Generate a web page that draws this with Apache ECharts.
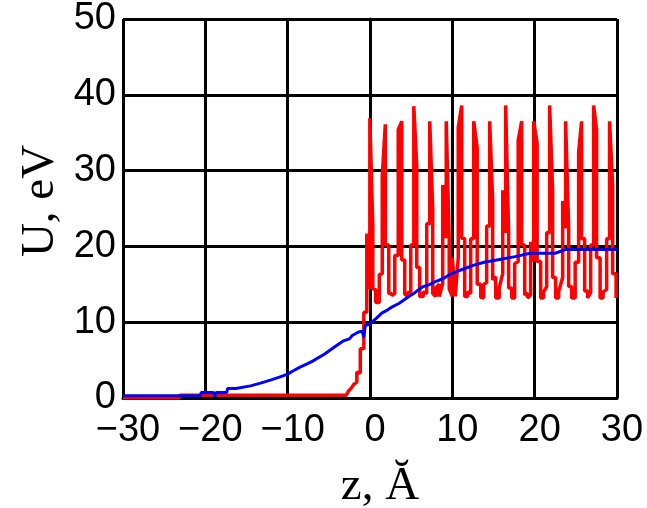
<!DOCTYPE html>
<html>
<head>
<meta charset="utf-8">
<script src="https://cdn.jsdelivr.net/npm/echarts@6/dist/echarts.min.js"></script>
<style>
html, body { margin: 0; padding: 0; background: #fff; }
#chart { width: 647px; height: 508px; }
</style>
</head>
<body>
<div id="chart"></div>
<script>
// axis ticks
var xTicks = [-30, -20, -10, 0, 10, 20, 30];
var yTicks = [0, 10, 20, 30, 40, 50];

// blue curve (smooth rise)
var blueZ = [-30, -20.6, -20.5, -19.0, -18.85, -18.7, -17.9, -17.4, -17.3, -16.3, -14.5, -13.3, -12.0, -11.0, -10.0, -9.3, -8.5, -7.7, -6.9, -6.3,
  -5.5, -5.0, -4.1, -3.3, -2.5, -2.15, -1.4, -0.93, -0.75, -0.57, -0.08, 0.76, 1.43, 2.04, 2.65, 3.56, 4.59, 5.44, 5.92, 6.47,
  7.2, 8.05, 8.96, 9.56, 10.35, 11.44, 12.54, 13.87, 15.39, 17.63, 19.45, 22.5, 23.8, 30];
var blueU = [0.3, 0.3, 0.73, 0.73, 0.2, 0.73, 0.73, 0.73, 1.25, 1.25, 1.6, 1.96, 2.4, 2.75, 3.15, 3.6, 4.07, 4.47, 4.9, 5.3,
  5.8, 6.2, 6.9, 7.5, 7.8, 8.25, 8.7, 8.8, 8.0, 9.6, 9.7, 10.5, 11.2, 11.55, 12.0, 12.5, 13.3, 13.9, 14.3, 14.7,
  14.95, 15.4, 15.8, 16.2, 16.6, 17.05, 17.5, 17.9, 18.2, 18.65, 19.1, 19.1, 19.6, 19.6];

// red curve, flat part before the jump
var redLeadZ = [-30, -23.2, -23.1, -2.88, -2.63, -2.27, -1.97];
var redLeadU = [0, 0, 0.35, 0.35, 0.9, 1.3, 1.8];

// red curve, oscillating part: each sample is a vertical stroke lo..hi
var redZ = [-1.6, -1.18, -0.75, -0.39, -0.02, 0.34, 0.70, 1.13, 1.49, 1.86, 2.28, 2.65, 3.01, 3.43, 3.86, 4.22, 4.59, 4.95, 5.32, 5.68,
  6.04, 6.47, 6.89, 7.26, 7.62, 7.99, 8.41, 8.83, 9.26, 9.62, 9.99, 10.35, 10.72, 11.14, 11.5, 11.87, 12.23, 12.6, 13.02, 13.45,
  13.81, 14.17, 14.54, 14.9, 15.27, 15.69, 16.12, 16.48, 16.84, 17.21, 17.57, 18.0, 18.42, 18.79, 19.15, 19.51, 19.88, 20.3, 20.73, 21.09,
  21.46, 21.82, 22.18, 22.55, 22.91, 23.4, 23.76, 24.13, 24.49, 24.92, 25.34, 25.7, 26.07, 26.43, 26.8, 27.16, 27.52, 27.95, 28.31, 28.74,
  29.1, 29.47, 29.89];
var redLo = [2.1, 3.3, 6.5, 11.3, 14.4, 14.4, 12.6, 12.6, 16.4, 20.2, 13.8, 13.5, 13.8, 18.8, 18.2, 13.7, 13.4, 13.7, 20.2, 17.2,
  13.4, 13.4, 13.8, 23, 13.8, 13.4, 13.4, 15.1, 21.1, 14.4, 13.4, 13.4, 18.5, 21.1, 13.4, 13.4, 13.8, 21, 15, 13.3,
  13.2, 15.2, 22.7, 15.6, 13.2, 13.2, 16.4, 21.8, 14.5, 13.2, 13.2, 18, 20.2, 13.6, 13.2, 13.6, 18, 18, 13.2, 13.2,
  14.7, 21.8, 15.9, 13.2, 13.2, 15.9, 22.4, 14.7, 13.2, 13.2, 17.9, 21, 14.1, 13.2, 13.9, 20.2, 18.5, 13.2, 13.2, 14.3,
  21, 16.4, 13.2];
var redHi = [3.4, 6.5, 11.3, 21.7, 36.9, 22.7, 14.3, 16.3, 29.3, 36.1, 20.2, 13.8, 18.8, 35.4, 36.5, 18.2, 14, 20.2, 38.5, 30.6,
  17.2, 14, 23, 36.5, 24.8, 14.5, 15, 28.1, 36.5, 21, 18.5, 14, 35.7, 38.6, 21, 14, 21, 36.5, 33, 15,
  15, 22.7, 36.5, 26, 16, 14.5, 27.4, 38.6, 21.8, 14.5, 17.7, 34, 36.5, 20.2, 13.8, 20.6, 36.5, 33.6, 18, 14,
  21.8, 38.6, 27.4, 15.9, 14, 26, 36.5, 22.4, 14.7, 17.9, 32.4, 36.5, 21, 14.1, 20.2, 38.6, 35.4, 18.5, 14, 21,
  36.5, 28, 16.4];

var blueData = blueZ.map(function (z, i) { return [z, blueU[i]]; });

var redData = redLeadZ.map(function (z, i) { return [z, redLeadU[i]]; });
var last = redLeadU[redLeadU.length - 1];
for (var i = 0; i < redZ.length; i++) {
  var lo = redLo[i], hi = redHi[i];
  if (Math.abs(last - lo) <= Math.abs(last - hi)) {
    redData.push([redZ[i], lo], [redZ[i], hi]);
    last = hi;
  } else {
    redData.push([redZ[i], hi], [redZ[i], lo]);
    last = lo;
  }
}

var chart = echarts.init(document.getElementById('chart'));

function tickText(v) {
  return v < 0 ? '\u2212' + Math.abs(v) : String(v);
}

var option = {
  animation: false,
  backgroundColor: '#fff',
  grid: { left: 123, right: 30, top: 19, bottom: 110 },
  xAxis: {
    type: 'value',
    min: xTicks[0],
    max: xTicks[xTicks.length - 1],
    interval: xTicks[1] - xTicks[0],
    axisLine: { show: true, onZero: false, lineStyle: { color: '#000', width: 3 } },
    axisTick: { show: false },
    splitLine: { show: true, lineStyle: { color: '#000', width: 3 } },
    axisLabel: {
      color: '#000',
      fontFamily: 'Liberation Sans',
      fontSize: 38,
      margin: 14,
      padding: [0, 0, 0, 10],
      formatter: tickText
    }
  },
  yAxis: {
    type: 'value',
    min: yTicks[0],
    max: yTicks[yTicks.length - 1],
    interval: yTicks[1] - yTicks[0],
    axisLine: { show: true, lineStyle: { color: '#000', width: 3 } },
    axisTick: { show: false },
    splitLine: { show: true, lineStyle: { color: '#000', width: 3 } },
    axisLabel: {
      color: '#000',
      fontFamily: 'Liberation Sans',
      fontSize: 38,
      margin: 7,
      padding: [7, 0, 0, 0],
      formatter: tickText
    }
  },
  graphic: [
    {
      type: 'text',
      x: 380, y: 487,
      style: {
        text: 'z, Ă',
        font: '47px "Liberation Serif"',
        fill: '#000',
        textAlign: 'center',
        textVerticalAlign: 'middle'
      }
    },
    {
      type: 'text',
      x: 41, y: 201,
      rotation: Math.PI / 2,
      style: {
        text: 'U, eV',
        font: '47px "Liberation Serif"',
        fill: '#000',
        textAlign: 'center',
        textVerticalAlign: 'middle'
      }
    }
  ],
  series: [
    {
      name: 'red',
      type: 'line',
      data: redData,
      symbol: 'none',
      z: 2,
      lineStyle: { color: '#ff0000', width: 3.5 }
    },
    {
      name: 'blue',
      type: 'line',
      data: blueData,
      symbol: 'none',
      z: 3,
      lineStyle: { color: '#0000ff', width: 3 }
    }
  ]
};

chart.setOption(option);
</script>
</body>
</html>
